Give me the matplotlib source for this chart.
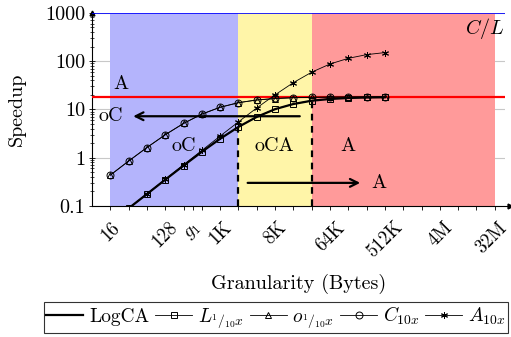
import numpy as np
import matplotlib
matplotlib.use("Agg")
import matplotlib.pyplot as plt
from matplotlib.transforms import ScaledTranslation

plt.rcParams["font.family"] = "cmr10"
plt.rcParams["mathtext.fontset"] = "cm"
plt.rcParams["axes.formatter.use_mathtext"] = True

# granularity in bytes (one point per octave)
granularity = [16, 32, 64, 128, 256, 512, 1024, 2048, 4096, 8192,
               16384, 32768, 65536, 131072, 262144, 524288]

# speedup
logca = [0.044, 0.089, 0.176, 0.349, 0.685, 1.32, 2.46, 4.33, 6.98, 10.1,
         12.9, 15.1, 16.4, 17.2, 17.6, 17.8]
l_tenth = [0.044, 0.089, 0.176, 0.349, 0.685, 1.32, 2.46, 4.34, 7.0, 10.1,
           13.0, 15.2, 16.5, 17.3, 17.7, 18.0]
o_tenth = [0.434, 0.848, 1.62, 2.97, 5.10, 7.96, 11.0, 13.7, 15.6, 16.7,
           17.4, 17.7, 17.9, 17.95, 18.0, 18.0]
c_ten = [0.434, 0.848, 1.62, 2.98, 5.12, 7.98, 11.1, 13.8, 15.7, 16.8,
         17.5, 17.8, 18.0, 18.1, 18.1, 18.2]
a_ten = [0.044, 0.089, 0.178, 0.355, 0.709, 1.41, 2.80, 5.51, 10.7, 20.0,
         35.8, 58.9, 87.0, 114, 136, 150]

acc_limit = 18.2      # A
cl_limit = 1000       # C/L

region_edges = [16, 2048, 32768, 2**25]
region_colors = ["#b4b4fc", "#fff5a8", "#ff9a9a"]

xtick_pos = [2**4, 2**7, 2**8.5, 2**10, 2**13, 2**16, 2**19, 2**22, 2**25]
xtick_lab = ["16", "128", "$g_1$", "1K", "8K", "64K", "512K", "4M", "32M"]
ytick_pos = [0.1, 1, 10, 100, 1000]
ytick_lab = ["0.1", "1", "10", "100", "1000"]

fig = plt.figure(figsize=(5.11, 3.37), dpi=100)
ax = fig.add_axes([0.18, 0.389, 0.808, 0.573])
ax.set_xscale("log", base=2)
ax.set_yscale("log")
ax.set_xlim(2**3, 2**25.55)
ax.set_ylim(0.1, 1000)

ax.set_axisbelow(True)
ax.yaxis.grid(True, which="major", color="#c8c8c8", lw=0.8)

for i in range(3):
    ax.axvspan(region_edges[i], region_edges[i + 1], color=region_colors[i], lw=0, zorder=1)

ax.axhline(cl_limit, color="blue", lw=1.2, zorder=3)
ax.axhline(acc_limit, color="red", lw=1.6, zorder=3)

ax.plot(granularity, logca, color="k", lw=1.6, zorder=4, label="LogCA")
mk = dict(color="k", lw=0.6, ms=5, mfc="none", mew=0.7, zorder=5)
ax.plot(granularity, l_tenth, marker="s", label=r"$L_{{}^{1}/_{10}x}$", **mk)
ax.plot(granularity, o_tenth, marker="^", label=r"$o_{{}^{1}/_{10}x}$", **mk)
ax.plot(granularity, c_ten, marker="o", label=r"$C_{10x}$", **mk)
ax.plot(granularity, a_ten, marker=(6, 2, 0), label=r"$A_{10x}$", **mk)

# dashed markers at region borders
ax.plot([2048, 2048], [0.1, logca[7]], color="k", ls=(0, (3, 2.5)), lw=1.6, zorder=4)
ax.plot([32768, 32768], [0.1, logca[11]], color="k", ls=(0, (3, 2.5)), lw=1.6, zorder=4)

arr = dict(arrowstyle="->", lw=1.6, color="k", mutation_scale=14)
ax.annotate("", xy=(2**5.1, 7.2), xytext=(2**14.5, 7.2), arrowprops=arr, zorder=6)
ax.annotate("", xy=(2**17.8, 0.30), xytext=(2**11.35, 0.30), arrowprops=arr, zorder=6)

fs = 14.5
ax.text(2**4.6, 33, "A", fontsize=fs, ha="center", va="center")
ax.text(2**4.0, 7.2, "oC", fontsize=fs, ha="center", va="center")
ax.text(2**8.0, 1.75, "oC", fontsize=fs, ha="center", va="center")
ax.text(2**12.95, 1.75, "oCA", fontsize=fs, ha="center", va="center")
ax.text(2**17.0, 1.75, "A", fontsize=fs, ha="center", va="center")
ax.text(2**18.65, 0.30, "A", fontsize=fs, ha="center", va="center")
ax.text(2**25.55, 470, "$C/L$", fontsize=fs, ha="right", va="center")

ax.set_xticks(xtick_pos)
ax.set_xticklabels(xtick_lab, rotation=45, ha="center", fontsize=13.5)
ax.xaxis.set_minor_locator(matplotlib.ticker.FixedLocator(
    [2.0**k for k in range(4, 26)]))
ax.xaxis.set_minor_formatter(matplotlib.ticker.NullFormatter())
ax.set_yticks(ytick_pos)
ax.set_yticklabels(ytick_lab, fontsize=fs)
ax.tick_params(axis="x", which="both", length=3, width=0.6, direction="out", pad=6)
ax.tick_params(axis="y", which="major", length=4, width=0.6, direction="inout", pad=3)
ax.tick_params(axis="y", which="minor", length=2.5, width=0.5, direction="inout")

# keep the last rotated label inside the canvas
last = ax.get_xticklabels()[-1]
last.set_transform(last.get_transform() + ScaledTranslation(-3 / 100, 0, fig.dpi_scale_trans))

for s in ["top", "right"]:
    ax.spines[s].set_visible(False)
for s in ["left", "bottom"]:
    ax.spines[s].set_linewidth(0.8)
ax.plot(1.012, 0, ">k", ms=3.5, transform=ax.transAxes, clip_on=False)
ax.plot(0, 1.0, "^k", ms=3.5, transform=ax.transAxes, clip_on=False)
ax.spines["bottom"].set_bounds(2**3, 2**25.7)

ax.set_xlabel("Granularity (Bytes)", fontsize=fs, labelpad=9)
ax.set_ylabel("Speedup", fontsize=fs, labelpad=14)

leg = ax.legend(loc="upper center", bbox_to_anchor=(276 / 511, 1 - 302 / 337),
                bbox_transform=fig.transFigure, ncol=5, fontsize=14, frameon=True,
                fancybox=False, edgecolor="k", handlelength=1.9, handletextpad=0.3,
                columnspacing=0.3, borderpad=0.15, borderaxespad=0)
leg.get_frame().set_linewidth(0.8)

fig.savefig("out.png", dpi=100)
